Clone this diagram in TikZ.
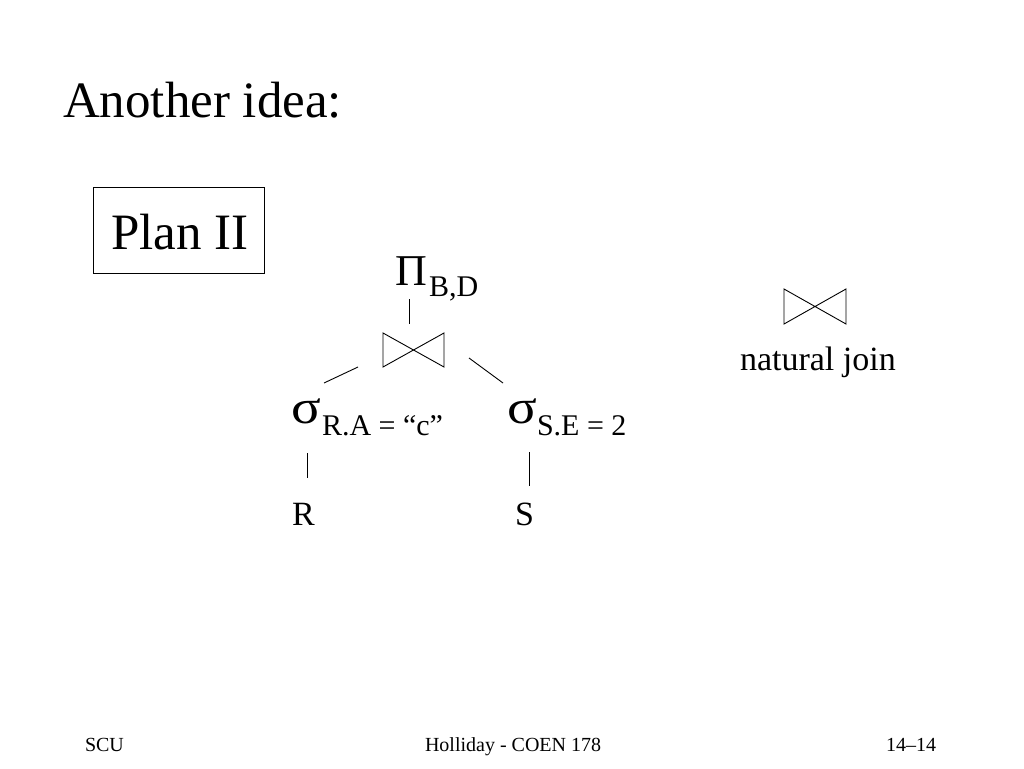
\documentclass[tikz,border=0pt]{standalone}
\usepackage{fontspec}
\setmainfont{Liberation Serif}
\newcommand{\bigsig}{\scalebox{1.2}[1.05]{σ}}
\begin{document}
\begin{tikzpicture}[x=1pt,y=-1pt,
  txt/.style={inner sep=0pt,outer sep=0pt,anchor=base west},
  title/.style={txt,font=\fontsize{51}{51}\selectfont},
  big/.style={txt,font=\fontsize{46}{46}\selectfont},
  sub/.style={txt,font=\fontsize{30}{30}\selectfont},
  leaf/.style={txt,font=\fontsize{34}{34}\selectfont},
  foot/.style={txt,font=\fontsize{20}{20}\selectfont},
  edge/.style={line width=0.9pt},
  bowtie/.style={line width=0.9pt,line join=miter}]
\useasboundingbox[fill=white] (0,0) rectangle (1024,768);
% title
\node[title] (title) at (63,117) {Another idea:};
% plan box
\node[title] (plan) at (111,249) {Plan II};
\draw[line width=0.9pt] (93,187) rectangle (264,273);
% root projection
\node[big,font=\fontsize{44}{44}\selectfont] (pi) at (395,285) {Π};
\node[sub] (pisub) at (429,296) {B,D};
% join symbol
\draw[bowtie] (383,333) -- (444,367) -- (444,333) -- (383,367) -- cycle;
% left selection
\node[big] (sl) at (291,423) {\bigsig};
\node[sub] (slsub) at (322,435) {R.A = “c”};
% right selection
\node[big] (sr) at (507,423) {\bigsig};
\node[sub] (srsub) at (537,435) {S.E = 2};
% leaves
\node[leaf] (R) at (292,525) {R};
\node[leaf] (S) at (515,525) {S};
% connectors
\coordinate (a1) at (409,299); \coordinate (a2) at (409,324);
\coordinate (b1) at (358,367); \coordinate (b2) at (324,383);
\coordinate (c1) at (469,358); \coordinate (c2) at (503,383);
\coordinate (d1) at (307,453); \coordinate (d2) at (307,478);
\coordinate (e1) at (529,452); \coordinate (e2) at (529,486);
\draw[edge] (a1) -- (a2);
\draw[edge] (b1) -- (b2);
\draw[edge] (c1) -- (c2);
\draw[edge] (d1) -- (d2);
\draw[edge] (e1) -- (e2);
% legend
\draw[bowtie] (784,289) -- (846,324) -- (846,289) -- (784,324) -- cycle;
\node[leaf] (nj) at (740,370) {natural join};
% footer
\node[foot] (f1) at (85,751) {SCU};
\node[foot] (f2) at (425,751) {Holliday - COEN 178};
\node[foot] (f3) at (886,751) {14–14};
\end{tikzpicture}
\end{document}
